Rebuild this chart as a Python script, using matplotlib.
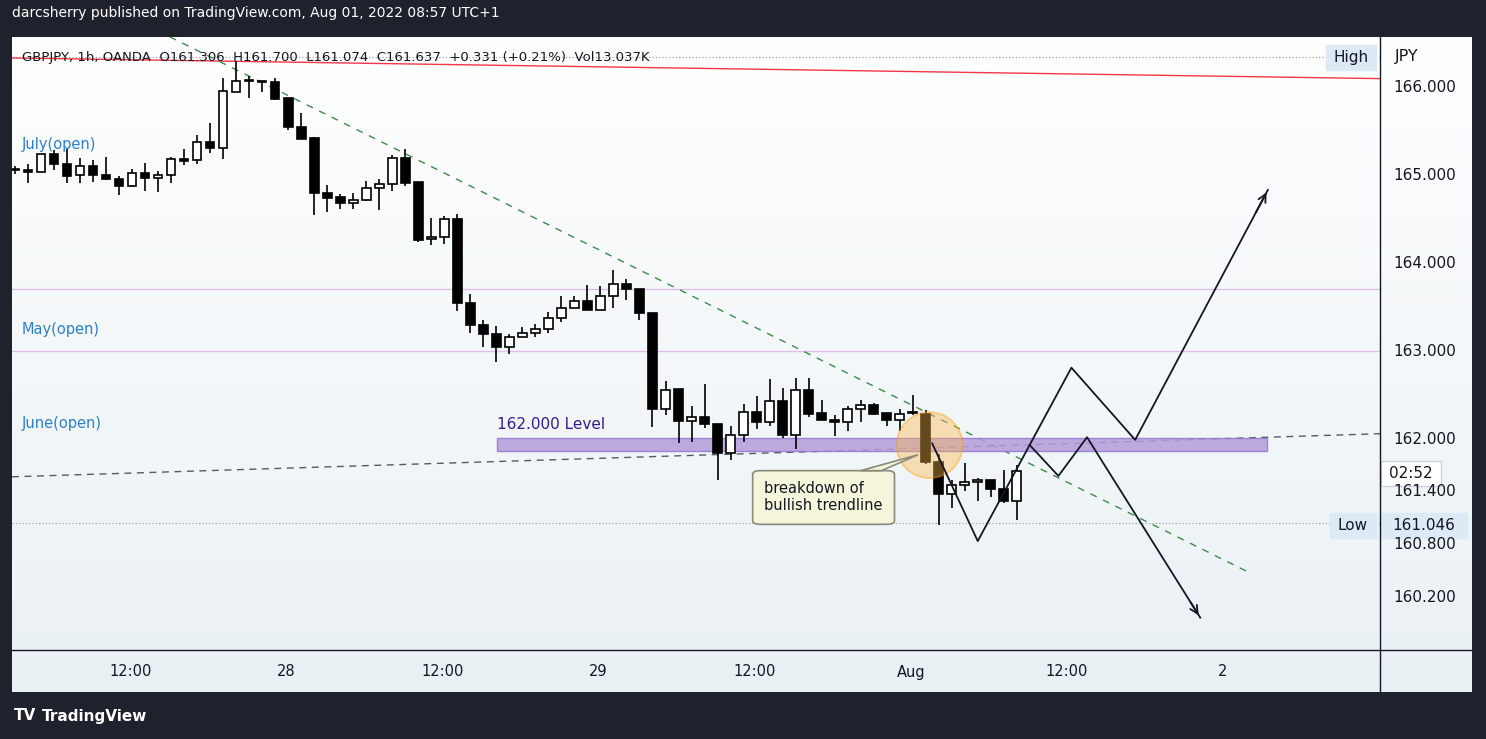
import matplotlib
matplotlib.use("Agg")
import matplotlib.pyplot as plt
import numpy as np
from matplotlib.patches import Rectangle, Ellipse, FancyBboxPatch, Polygon
from matplotlib.colors import LinearSegmentedColormap

opens = [165.07,165.06,165.03,165.24,165.13,165.00,165.10,165.00,164.95,164.87,165.02,164.97,165.00,165.18,165.17,165.37,165.31,165.94,166.07,166.07,
         166.06,165.87,165.55,165.42,164.80,164.75,164.68,164.72,164.85,164.90,165.19,164.92,164.27,164.30,164.50,163.54,163.29,163.19,163.04,163.16,
         163.20,163.25,163.38,163.49,163.57,163.47,163.62,163.76,163.70,163.43,162.34,162.57,162.20,162.25,162.17,161.84,162.04,162.31,162.19,162.43,
         162.05,162.56,162.29,162.21,162.19,162.34,162.39,162.29,162.21,162.29,162.28,161.74,161.38,161.48,161.51,161.53,161.43,161.29]
closes = [165.06,165.03,165.24,165.13,164.99,165.10,165.00,164.95,164.87,165.02,164.97,165.00,165.18,165.16,165.37,165.31,165.95,166.07,166.07,166.06,
          165.86,165.55,165.41,164.80,164.74,164.68,164.72,164.85,164.90,165.19,164.91,164.26,164.30,164.50,163.54,163.29,163.19,163.04,163.16,163.20,
          163.25,163.38,163.49,163.57,163.47,163.62,163.76,163.70,163.43,162.34,162.56,162.20,162.25,162.17,161.84,162.04,162.31,162.19,162.43,162.05,
          162.56,162.28,162.21,162.19,162.34,162.39,162.28,162.21,162.28,162.29,161.74,161.38,161.48,161.51,161.53,161.43,161.29,161.637]
highs = [165.10,165.13,165.24,165.28,165.30,165.19,165.17,165.20,164.99,165.07,165.14,165.04,165.20,165.29,165.45,165.59,166.10,166.30,166.12,166.07,
         166.10,165.88,165.71,165.43,164.89,164.78,164.80,164.93,164.95,165.23,165.29,164.92,164.51,164.53,164.56,163.65,163.35,163.28,163.19,163.27,
         163.31,163.44,163.63,163.63,163.75,163.74,163.92,163.82,163.71,163.43,162.66,162.57,162.37,162.63,162.17,162.15,162.40,162.49,162.68,162.58,
         162.69,162.69,162.44,162.27,162.37,162.44,162.41,162.29,162.34,162.50,162.33,161.83,161.53,161.73,161.56,161.53,161.65,161.70]
lows = [165.01,164.91,165.03,165.06,164.91,164.91,164.92,164.94,164.77,164.86,164.82,164.81,164.91,165.11,165.12,165.25,165.18,165.94,165.88,165.94,
        165.85,165.51,165.41,164.55,164.58,164.61,164.61,164.70,164.60,164.82,164.87,164.24,164.21,164.22,163.45,163.20,163.04,162.87,162.96,163.16,
        163.16,163.20,163.33,163.49,163.47,163.47,163.49,163.58,163.35,162.14,162.27,161.95,161.97,162.12,161.53,161.76,161.96,162.11,162.15,162.01,
        161.89,162.25,162.21,162.03,162.09,162.19,162.27,162.15,162.09,162.27,161.72,161.02,161.22,161.41,161.29,161.34,161.27,161.074]

time_ticks = [8.85, 20.85, 32.85, 44.85, 56.85, 68.85, 80.85, 92.85]
time_labels = ["12:00", "28", "12:00", "29", "12:00", "Aug", "12:00", "2"]
price_ticks = [166.0, 165.0, 164.0, 163.0, 162.0, 161.4, 160.8, 160.2]
price_labels = ["166.000", "165.000", "164.000", "163.000", "162.000", "161.400", "160.800", "160.200"]

path1_x = [70.5, 74.0, 81.2, 86.1, 96.3]
path1_y = [161.95, 160.84, 162.81, 161.99, 164.83]
path2_x = [78.0, 80.2, 82.4, 91.1]
path2_y = [161.93, 161.58, 162.02, 159.97]

W, H = 1486, 739
BG = "#1e222d"
fig = plt.figure(figsize=(W/100, H/100), dpi=100, facecolor=BG)

def fx(px): return px / W
def fy(py): return 1 - py / H

panel = fig.add_axes([fx(12), fy(692), fx(1472-12), (692-37)/H])
grad = np.linspace(0, 1, 256).reshape(-1, 1)
cm = LinearSegmentedColormap.from_list("g", ["#ffffff", "#e9f0f4"])
panel.imshow(grad, aspect="auto", cmap=cm, extent=[0, 1, 0, 1], origin="upper")
panel.set_axis_off()

ax = fig.add_axes([fx(12), fy(650), fx(1380-12), (650-37)/H])
ax.patch.set_alpha(0)
x0 = (12-15)/13.01
x1 = (1380-15)/13.01
ax.set_xlim(x0, x1)
ax.set_ylim(159.602, 166.568)
ax.set_axis_off()

ax.axhline(163.70, color="#e1bee7", lw=1)
ax.axhline(163.0, color="#e1bee7", lw=1)
ax.axhline(166.34, color="#9598a1", lw=0.8, ls=(0, (1, 2)))
ax.axhline(161.046, color="#9598a1", lw=0.8, ls=(0, (1, 2)))
ax.plot([x0, x1], [166.33, 166.095], color="#f23645", lw=1)
ax.plot([11.9, 94.9], [166.57, 160.48], color="#3c8c4a", lw=1, ls=(0, (5, 5)))
ax.plot([x0, x1], [161.57, 162.06], color="#555a66", lw=1, ls=(0, (5, 4)))

ax.add_patch(Rectangle((37.05, 161.86), 96.2-37.05, 0.15, facecolor="#b39ddb", alpha=0.85, edgecolor="#9575cd", lw=1, zorder=3))
ax.text(37.05, 162.08, "162.000 Level", color="#311b92", fontsize=11, va="bottom", ha="left")

idx = np.arange(len(opens))
for i in idx:
    o, c, h, l = opens[i], closes[i], highs[i], lows[i]
    ax.vlines(i, l, h, color="black", lw=1.2, zorder=4)
    bot, top = min(o, c), max(o, c)
    hgt = max(top - bot, 0.012)
    ax.add_patch(Rectangle((i-0.33, bot), 0.66, hgt, facecolor="black" if c < o else "white",
                           edgecolor="black", lw=1.2, zorder=5))

ax.add_patch(Ellipse((70.3, 161.93), 66/13.01, 66/88, facecolor="#ffb74d", alpha=0.4, edgecolor="#ff9800", lw=1.3, zorder=6))

ax.add_patch(FancyBboxPatch((56.7, 161.03), 67.6-56.7, 0.61, boxstyle="round,pad=0,rounding_size=0.6",
                            mutation_aspect=0.07, facecolor="#f5f5dc", edgecolor="#8a8a7a", lw=1.2, zorder=7))
ax.add_patch(Polygon([[65.0, 161.64], [69.4, 161.82], [66.6, 161.64]], closed=True,
                     facecolor="#f5f5dc", edgecolor="#8a8a7a", lw=1.2, zorder=7))
ax.text(57.6, 161.34, "breakdown of\nbullish trendline", fontsize=10.5, va="center", ha="left", color="#131722", zorder=8, linespacing=1.2)

ax.plot(path1_x, path1_y, color="#131722", lw=1.3, zorder=8)
ax.plot(path2_x, path2_y, color="#131722", lw=1.3, zorder=8)
for px_, py_ in [(path1_x, path1_y), (path2_x, path2_y)]:
    ax.annotate("", xy=(px_[-1], py_[-1]), xytext=(px_[-2] + (px_[-1]-px_[-2])*0.9, py_[-2] + (py_[-1]-py_[-2])*0.9),
                arrowprops=dict(arrowstyle="->", color="#131722", lw=1.3, mutation_scale=14), zorder=8)

ax.text(0.5, 165.352, "July(open)", color="#2a7fd4", fontsize=10.5, va="center")
ax.text(0.5, 163.24, "May(open)", color="#2a7fd4", fontsize=10.5, va="center")
ax.text(0.5, 162.18, "June(open)", color="#2a7fd4", fontsize=10.5, va="center")

fig.add_artist(plt.Line2D([fx(1380), fx(1380)], [fy(37), fy(692)], color="#131722", lw=1))
fig.add_artist(plt.Line2D([fx(12), fx(1472)], [fy(650), fy(650)], color="#131722", lw=1))

for t, lab in zip(time_ticks, time_labels):
    xp = 15 + t*13.01
    fig.text(fx(xp), fy(672), lab, ha="center", va="center", fontsize=10.5, color="#131722")

for p, lab in zip(price_ticks, price_labels):
    yp = 87 + (166 - p)*88
    fig.text(fx(1393), fy(yp), lab, ha="left", va="center", fontsize=11, color="#131722")

fig.text(fx(1395), fy(57), "JPY", ha="left", va="center", fontsize=11.5, color="#131722")

def tag(x, y, w, h, s, fc, ec=None):
    fig.add_artist(Rectangle((fx(x), fy(y+h)), w/W, h/H, facecolor=fc, edgecolor=ec or fc, lw=1, transform=fig.transFigure))
    fig.text(fx(x + w/2), fy(y + h/2), s, ha="center", va="center", fontsize=11, color="#131722")

tag(1326, 45, 50, 25, "High", "#dde9f5")
tag(1330, 513, 46, 25, "Low", "#dde9f5")
tag(1381, 513, 86, 25, "161.046", "#dde9f5")
tag(1381, 461, 60, 25, "02:52", "#ffffff", "#d0d3da")

fig.text(fx(22), fy(57), "GBPJPY, 1h, OANDA  O161.306  H161.700  L161.074  C161.637  +0.331 (+0.21%)  Vol13.037K",
         ha="left", va="center", fontsize=9.5, color="#131722")
fig.text(fx(12), fy(13), "darcsherry published on TradingView.com, Aug 01, 2022 08:57 UTC+1",
         ha="left", va="center", fontsize=10, color="#ffffff")
fig.text(fx(14), fy(716), "TV", ha="left", va="center", fontsize=11, color="#ffffff", fontweight="bold")
fig.text(fx(42), fy(716), "TradingView", ha="left", va="center", fontsize=11, color="#ffffff", fontweight="bold")

fig.savefig("out.png", dpi=100, facecolor=BG)
